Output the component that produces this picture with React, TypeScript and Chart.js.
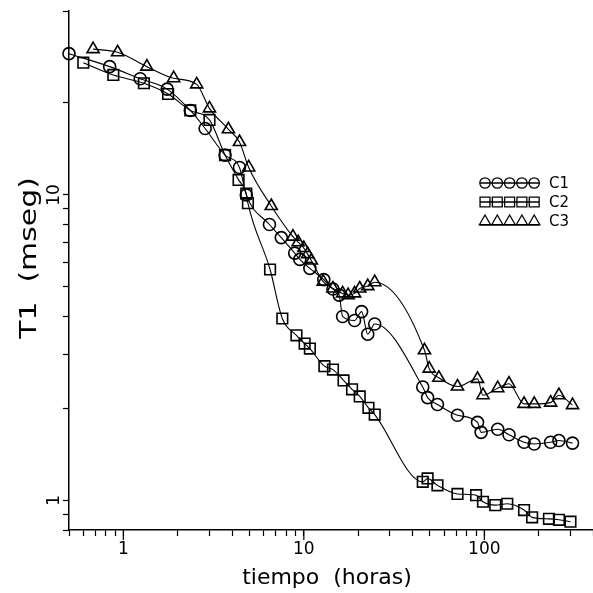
import React, { useEffect, useRef } from 'react';
import { Chart, registerables } from 'chart.js';

Chart.register(...registerables);

// ---- data (tiempo en horas, T1 en mseg) ----
const c1Time = [0.5, 0.84, 1.24, 1.75, 2.35, 2.84, 3.66, 4.4, 4.8, 6.45, 7.5, 8.9, 9.5, 10.8, 12.9, 14.5, 15.7, 16.4, 19.1, 20.9, 22.6, 24.7, 45.6, 48.5, 55, 71, 91.7, 96, 118.6, 137, 166, 189, 233, 259, 308];
const c1T1 = [29, 26.3, 24.0, 22.2, 18.9, 16.5, 13.5, 12.3, 10.0, 8.0, 7.25, 6.45, 6.15, 5.75, 5.28, 4.92, 4.7, 4.0, 3.88, 4.15, 3.5, 3.78, 2.35, 2.17, 2.06, 1.9, 1.8, 1.67, 1.71, 1.64, 1.55, 1.53, 1.55, 1.57, 1.54];

const c2Time = [0.6, 0.88, 1.3, 1.77, 2.35, 3.0, 3.66, 4.35, 4.8, 4.9, 6.5, 7.6, 9.1, 10.1, 10.8, 13.0, 14.5, 16.6, 18.5, 20.4, 22.8, 24.7, 45.6, 48.5, 55, 71, 90, 98.3, 115, 134, 166, 184, 228, 259, 300];
const c2T1 = [27.1, 24.7, 23.2, 21.4, 18.9, 17.6, 13.5, 11.2, 10.1, 9.4, 5.7, 3.94, 3.47, 3.26, 3.14, 2.75, 2.68, 2.47, 2.31, 2.19, 2.01, 1.91, 1.15, 1.18, 1.12, 1.05, 1.04, 0.99, 0.965, 0.975, 0.93, 0.88, 0.87, 0.864, 0.852];

const c3Time = [0.68, 0.93, 1.35, 1.9, 2.55, 3.0, 3.82, 4.4, 4.95, 6.6, 8.7, 9.3, 10.0, 10.5, 11.0, 12.8, 14.5, 16.4, 17.6, 19.1, 20.4, 22.6, 24.7, 46.6, 49.5, 56, 71, 91.7, 98.3, 118.6, 137, 166, 189, 233, 259, 308];
const c3T1 = [30.0, 29.3, 26.3, 24.1, 23.0, 19.2, 16.4, 14.9, 12.3, 9.2, 7.3, 7.0, 6.7, 6.4, 6.1, 5.2, 4.94, 4.76, 4.7, 4.76, 4.94, 5.03, 5.18, 3.1, 2.7, 2.52, 2.36, 2.5, 2.21, 2.33, 2.41, 2.07, 2.07, 2.09, 2.21, 2.05];

const seriesNames = ['C1', 'C2', 'C3'];
const seriesStyles = ['circle', 'rect', 'triangle'];

const xTickValues = [0.5, 0.6, 0.7, 0.8, 0.9, 1, 2, 3, 4, 5, 6, 7, 8, 9, 10, 20, 30, 40, 50, 60, 70, 80, 90, 100, 200, 300, 400];
const xLabeledValues = [1, 10, 100];
const xTickLabels = ['1', '10', '100'];
const yTickValues = [0.8, 0.9, 1, 2, 3, 4, 5, 6, 7, 8, 9, 10, 20, 40];
const yLabeledValues = [1, 10];
const yTickLabels = ['1', '10'];

const xTitle = 'tiempo  (horas)';
const yTitle = 'T1  (mseg)';

const FONT = "'DejaVu Sans', sans-serif";

function toPoints(xs: number[], ys: number[]) {
  return xs.map((x, i) => ({ x, y: ys[i] }));
}

function drawMarker(ctx: CanvasRenderingContext2D, style: string, x: number, y: number, r: number) {
  ctx.beginPath();
  if (style === 'circle') {
    ctx.arc(x, y, r, 0, Math.PI * 2);
  } else if (style === 'rect') {
    const s = r * Math.SQRT1_2;
    ctx.rect(x - s, y - s, 2 * s, 2 * s);
  } else {
    ctx.moveTo(x, y - r);
    ctx.lineTo(x + r * 0.866, y + r * 0.5);
    ctx.lineTo(x - r * 0.866, y + r * 0.5);
    ctx.closePath();
  }
  ctx.stroke();
}

const overlayPlugin = {
  id: 'overlay',
  afterDraw(chart: any) {
    const ctx: CanvasRenderingContext2D = chart.ctx;
    const yScale = chart.scales.y;
    const xScale = chart.scales.x;
    ctx.save();
    ctx.fillStyle = '#000';
    ctx.strokeStyle = '#000';

    // longer major ticks on x
    ctx.lineWidth = 1.2;
    xLabeledValues.forEach((v) => {
      const px = xScale.getPixelForValue(v);
      ctx.beginPath();
      ctx.moveTo(px, xScale.top);
      ctx.lineTo(px, xScale.top + 10);
      ctx.stroke();
    });

    // rotated y tick labels
    ctx.font = `17px ${FONT}`;
    ctx.textAlign = 'center';
    ctx.textBaseline = 'middle';
    yLabeledValues.forEach((v, i) => {
      const py = yScale.getPixelForValue(v);
      ctx.save();
      ctx.translate(55, py);
      ctx.rotate(-Math.PI / 2);
      ctx.fillText(yTickLabels[i], 0, 0);
      ctx.restore();
    });

    // x title
    ctx.font = `22px ${FONT}`;
    ctx.textAlign = 'center';
    ctx.textBaseline = 'middle';
    ctx.fillText(xTitle, 327, 578);

    // y title (stretched like the scanned original)
    ctx.save();
    ctx.font = `23px ${FONT}`;
    ctx.translate(30, 258);
    ctx.rotate(-Math.PI / 2);
    ctx.scale(1.3, 1);
    ctx.fillText(yTitle, 0, 0);
    ctx.restore();

    // legend
    const rowsY = [183, 202, 221.5];
    const radii = [5.2, 7, 6.5];
    ctx.lineWidth = 1.3;
    seriesNames.forEach((name, i) => {
      const y = rowsY[i];
      const x0 = 485;
      const step = 12.3;
      ctx.beginPath();
      const ly = seriesStyles[i] === 'triangle' ? y + radii[i] * 0.5 : y;
      ctx.moveTo(x0 - 5, ly);
      ctx.lineTo(x0 + 4 * step + 5, ly);
      ctx.stroke();
      for (let k = 0; k < 5; k++) {
        drawMarker(ctx, seriesStyles[i], x0 + k * step, y, radii[i]);
      }
      ctx.font = `15px ${FONT}`;
      ctx.textAlign = 'left';
      ctx.textBaseline = 'middle';
      ctx.fillText(name, 549, y + 1);
    });
    ctx.restore();
  },
};

export default function App() {
  const canvasRef = useRef<HTMLCanvasElement | null>(null);

  useEffect(() => {
    const canvas = canvasRef.current;
    if (!canvas) return;
    const times = [c1Time, c2Time, c3Time];
    const values = [c1T1, c2T1, c3T1];
    const radii = [6, 7.5, 7];
    const datasets = seriesNames.map((name, i) => ({
      label: name,
      data: toPoints(times[i], values[i]),
      borderColor: '#000',
      borderWidth: 1.1,
      backgroundColor: 'rgba(0,0,0,0)',
      pointStyle: seriesStyles[i] as any,
      pointRadius: radii[i],
      pointBorderWidth: 1.6,
      pointBorderColor: '#000',
      pointBackgroundColor: 'rgba(0,0,0,0)',
      cubicInterpolationMode: 'monotone' as const,
      fill: false,
      clip: false as any,
    }));

    const chart = new Chart(canvas, {
      type: 'line',
      data: { datasets },
      plugins: [overlayPlugin],
      options: {
        animation: false,
        responsive: false,
        devicePixelRatio: 1,
        layout: { autoPadding: false, padding: { top: 11, right: 0, left: 0, bottom: 0 } },
        plugins: { legend: { display: false }, tooltip: { enabled: false } },
        scales: {
          x: {
            type: 'logarithmic',
            min: 0.5,
            max: 400,
            afterBuildTicks: (s: any) => {
              s.ticks = xTickValues.map((v) => ({ value: v }));
            },
            afterFit: (s: any) => {
              s.height = 63;
              s.paddingLeft = 0;
              s.paddingRight = 0;
            },
            ticks: {
              autoSkip: false,
              maxRotation: 0,
              minRotation: 0,
              padding: 3,
              color: '#000',
              font: { family: FONT, size: 17 },
              callback: (v: any) => {
                const idx = xLabeledValues.findIndex((t) => Math.abs(t - Number(v)) < 1e-9);
                return idx >= 0 ? xTickLabels[idx] : '';
              },
            },
            grid: { drawOnChartArea: false, drawTicks: true, tickLength: 6, color: '#000', tickColor: '#000', tickWidth: 1.2 },
            border: { display: true, color: '#000', width: 1.5 },
            title: { display: false },
          },
          y: {
            type: 'logarithmic',
            min: 0.8,
            max: 40,
            afterBuildTicks: (s: any) => {
              s.ticks = yTickValues.map((v) => ({ value: v }));
            },
            afterFit: (s: any) => {
              s.width = 69;
              s.paddingTop = 0;
              s.paddingBottom = 0;
            },
            ticks: {
              autoSkip: false,
              color: '#000',
              font: { family: FONT, size: 17 },
              callback: () => '',
            },
            grid: { drawOnChartArea: false, drawTicks: true, tickLength: 6, color: '#000', tickColor: '#000', tickWidth: 1.2 },
            border: { display: true, color: '#000', width: 1.5 },
            title: { display: false },
          },
        },
      } as any,
    });
    return () => chart.destroy();
  }, []);

  return (
    <div style={{ position: 'fixed', left: 0, top: 0, width: 593, height: 593, background: '#fff' }}>
      <canvas ref={canvasRef} width={593} height={593} style={{ display: 'block' }} />
    </div>
  );
}
